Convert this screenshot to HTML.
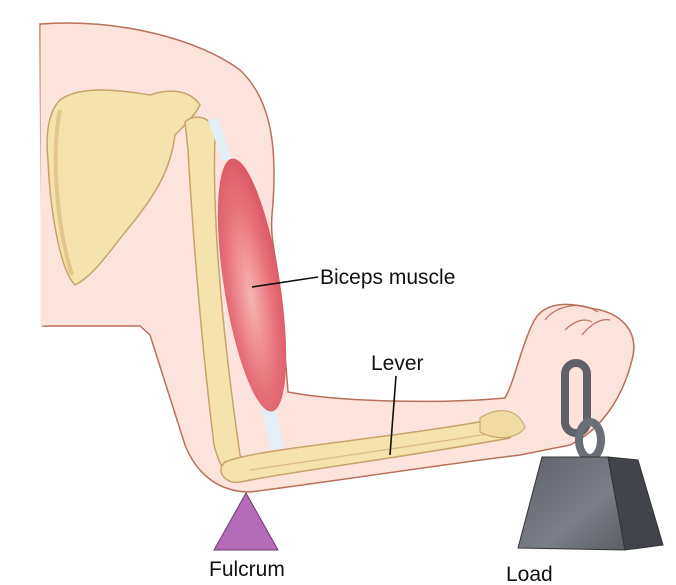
<!DOCTYPE html>
<html><head><meta charset="utf-8"><style>
html,body{margin:0;padding:0;background:#fff}
svg{display:block}
text{font-family:"Liberation Sans",sans-serif;fill:#111}
</style></head><body>
<svg width="676" height="585" viewBox="0 0 676 585" xmlns="http://www.w3.org/2000/svg">
<defs>
<radialGradient id="mus" cx="0.45" cy="0.55" r="0.6">
<stop offset="0" stop-color="#f6b4b4"/><stop offset="0.6" stop-color="#e8727a"/><stop offset="1" stop-color="#d95560"/></radialGradient>
<linearGradient id="wf" x1="0" y1="0" x2="1" y2="1"><stop offset="0" stop-color="#5d6068"/><stop offset="0.6" stop-color="#7b7f88"/><stop offset="1" stop-color="#5a5d64"/></linearGradient>
</defs>
<path d="M40,24 C120,18 200,40 240,70 C272,100 278,150 272,215 C270,240 276,255 280,290 L288,392 C340,402 440,404 505,398 C515,380 520,350 532,325 C540,305 560,300 590,308 C620,312 640,330 632,360 C622,400 600,430 570,445 L520,455 C430,466 330,482 250,492 C215,492 195,470 185,445 L150,335 L140,326 L42,326 Z" fill="#fce4dd" stroke="#b9705a" stroke-width="1.5"/>
<path d="M42,26 L42,326" stroke="#fce4dd" stroke-width="3"/>
<path d="M60,100 C80,85 120,90 150,95 C170,88 190,90 200,105 C195,115 185,125 175,135 C170,175 150,200 135,220 C110,250 95,275 75,285 C60,270 50,210 48,160 C45,130 50,110 60,100 Z" fill="#f4e3ac" stroke="#c9a26a" stroke-width="1.5"/>
<path d="M60,110 C52,150 55,220 72,275" stroke="#e2c68c" stroke-width="4" fill="none"/>
<path d="M185,122 C195,112 215,118 215,135 C212,220 222,330 240,455 C250,470 245,480 232,480 C222,470 218,460 214,445 C200,330 192,220 188,150 Z" fill="#f4e3ac" stroke="#c9a26a" stroke-width="1.5"/>
<path d="M208,120 L222,160 L232,160 L218,118 Z" fill="#e4eef6"/>
<path d="M258,390 L270,450 L284,448 L272,390 Z" fill="#e4eef6"/>
<ellipse cx="252" cy="285" rx="28" ry="128" transform="rotate(-9 252 285)" fill="url(#mus)"/>
<path d="M225,462 C260,448 380,440 490,420 C505,412 515,422 510,438 C400,458 300,470 240,482 C225,485 215,470 225,462 Z" fill="#f4e3ac" stroke="#c9a26a" stroke-width="1.5"/>
<path d="M250,470 C330,458 420,445 500,432" stroke="#d9bb82" stroke-width="1.2" fill="none"/>
<path d="M480,418 C500,405 520,410 525,428 C515,440 495,440 480,432 Z" fill="#f0dca3" stroke="#c9a26a"/>
<path d="M582,335 C590,325 600,318 610,320 M565,330 C575,320 585,318 592,322" stroke="#b9705a" stroke-width="1.2" fill="none"/>
<path d="M545,320 C555,306 580,300 598,312" stroke="#b9705a" stroke-width="1.2" fill="none"/>
<rect x="565" y="363" width="22" height="70" rx="11" fill="none" stroke="#5e6168" stroke-width="8"/>
<ellipse cx="590" cy="440" rx="11" ry="18" fill="none" stroke="#6a6e76" stroke-width="8"/>
<polygon points="542,457 608,457 625,550 518,548" fill="url(#wf)" stroke="#333" stroke-width="1"/>
<polygon points="608,457 638,460 663,545 625,550" fill="#41444b" stroke="#333" stroke-width="1"/>
<polygon points="246,493 214,550 278,550" fill="#b56cb8" stroke="#6c3c70" stroke-width="1"/>
<line x1="252" y1="287" x2="318" y2="277" stroke="#111" stroke-width="1.6"/>
<text x="320" y="284" font-size="21">Biceps muscle</text>
<text x="371" y="370" font-size="21">Lever</text>
<line x1="396" y1="376" x2="390" y2="455" stroke="#111" stroke-width="1.6"/>
<text x="209" y="576" font-size="21">Fulcrum</text>
<text x="506" y="581" font-size="21">Load</text>
</svg>
</body></html>
